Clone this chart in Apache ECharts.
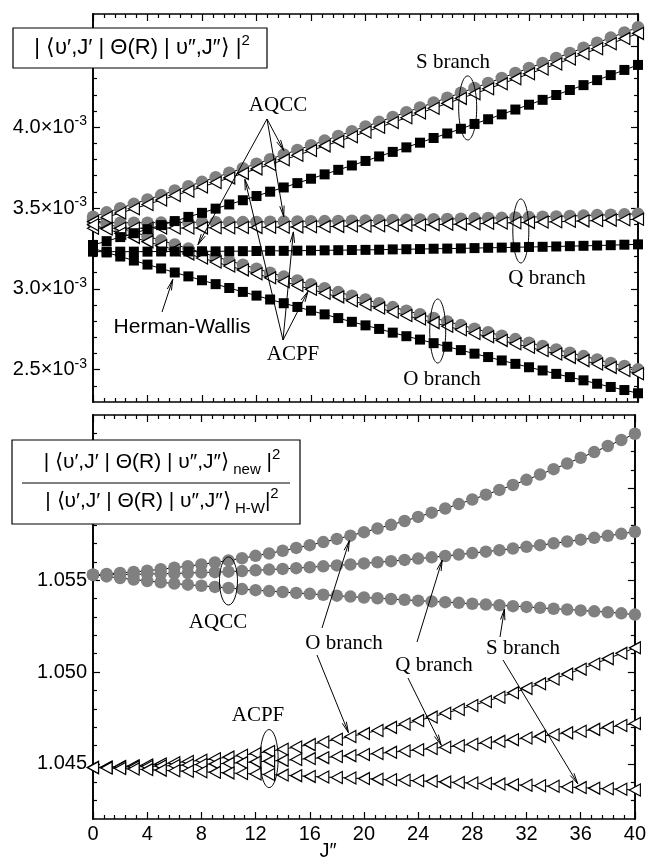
<!DOCTYPE html>
<html><head><meta charset="utf-8">
<script src="https://cdn.jsdelivr.net/npm/echarts@6/dist/echarts.min.js"></script>
<style>html,body{margin:0;padding:0;background:#fff}#c{width:649px;height:859px}</style>
</head><body><div id="c"></div>
<script>
// ---------- DATA ----------
const J = [0,1,2,3,4,5,6,7,8,9,10,11,12,13,14,15,16,17,18,19,20,21,22,23,24,25,26,27,28,29,30,31,32,33,34,35,36,37,38,39,40];

// Top panel: |<v',J'|Theta(R)|v'',J''>|^2 in units of 1e-3
const topAqccS = [3.446,3.473,3.499,3.526,3.553,3.580,3.608,3.635,3.662,3.690,3.718,3.746,3.774,3.802,3.831,3.859,3.888,3.917,3.946,3.975,4.004,4.033,4.063,4.093,4.122,4.152,4.182,4.213,4.243,4.273,4.304,4.335,4.366,4.397,4.428,4.459,4.491,4.522,4.554,4.586,4.618];
const topAqccQ = [3.409,3.409,3.409,3.409,3.409,3.410,3.410,3.411,3.411,3.412,3.412,3.413,3.414,3.415,3.416,3.417,3.418,3.419,3.420,3.421,3.422,3.424,3.426,3.427,3.429,3.431,3.432,3.434,3.436,3.438,3.439,3.442,3.444,3.446,3.448,3.451,3.453,3.456,3.458,3.461,3.464];
const topAqccO = [3.430,3.403,3.377,3.351,3.325,3.300,3.274,3.249,3.224,3.199,3.174,3.149,3.125,3.100,3.076,3.052,3.028,3.004,2.980,2.957,2.934,2.911,2.887,2.865,2.843,2.820,2.798,2.776,2.753,2.732,2.710,2.689,2.667,2.647,2.625,2.605,2.584,2.563,2.542,2.523,2.502];
const topAcpfS = [3.416,3.443,3.469,3.495,3.522,3.549,3.577,3.604,3.630,3.658,3.686,3.714,3.742,3.769,3.798,3.826,3.855,3.884,3.912,3.941,3.970,3.999,4.029,4.058,4.087,4.117,4.147,4.178,4.207,4.237,4.268,4.299,4.330,4.360,4.391,4.422,4.454,4.485,4.516,4.548,4.580];
const topAcpfQ = [3.375,3.375,3.375,3.375,3.375,3.376,3.376,3.376,3.377,3.378,3.378,3.379,3.380,3.381,3.381,3.383,3.384,3.385,3.386,3.388,3.389,3.390,3.392,3.394,3.395,3.397,3.399,3.400,3.402,3.405,3.407,3.409,3.411,3.413,3.415,3.418,3.420,3.422,3.425,3.427,3.430];
const topAcpfO = [3.396,3.370,3.344,3.318,3.292,3.267,3.241,3.216,3.191,3.166,3.141,3.117,3.093,3.068,3.044,3.021,2.997,2.973,2.950,2.926,2.903,2.881,2.857,2.835,2.813,2.791,2.768,2.747,2.724,2.703,2.681,2.660,2.639,2.618,2.597,2.576,2.556,2.535,2.514,2.495,2.475];
const topHwS = [3.271,3.295,3.320,3.344,3.369,3.394,3.419,3.445,3.470,3.496,3.522,3.548,3.574,3.601,3.627,3.654,3.681,3.708,3.736,3.763,3.791,3.819,3.847,3.875,3.904,3.933,3.961,3.990,4.020,4.049,4.079,4.109,4.139,4.169,4.199,4.230,4.260,4.291,4.322,4.354,4.385];
const topHwQ = [3.230,3.230,3.230,3.230,3.230,3.231,3.231,3.231,3.232,3.232,3.233,3.233,3.234,3.235,3.235,3.236,3.237,3.238,3.239,3.240,3.241,3.242,3.244,3.245,3.246,3.248,3.249,3.250,3.252,3.254,3.255,3.257,3.259,3.260,3.262,3.264,3.266,3.268,3.270,3.273,3.275];
const topHwO = [3.250,3.225,3.200,3.175,3.150,3.126,3.101,3.077,3.053,3.029,3.005,2.981,2.958,2.934,2.911,2.888,2.865,2.842,2.819,2.796,2.774,2.752,2.729,2.707,2.686,2.664,2.642,2.621,2.599,2.578,2.557,2.536,2.515,2.495,2.474,2.454,2.434,2.413,2.393,2.374,2.354];

// Bottom panel: ratio new / Herman-Wallis
const botAqccO = [1.05530,1.05534,1.05540,1.05545,1.05552,1.05560,1.05568,1.05577,1.05586,1.05597,1.05608,1.05620,1.05633,1.05646,1.05661,1.05676,1.05691,1.05708,1.05725,1.05743,1.05762,1.05782,1.05802,1.05823,1.05845,1.05868,1.05891,1.05915,1.05940,1.05966,1.05992,1.06019,1.06047,1.06076,1.06105,1.06136,1.06167,1.06198,1.06231,1.06264,1.06298];
const botAqccQ = [1.05530,1.05530,1.05531,1.05532,1.05534,1.05535,1.05537,1.05539,1.05542,1.05544,1.05547,1.05550,1.05554,1.05558,1.05562,1.05566,1.05571,1.05576,1.05581,1.05586,1.05592,1.05598,1.05604,1.05611,1.05618,1.05625,1.05632,1.05640,1.05648,1.05656,1.05664,1.05673,1.05682,1.05691,1.05701,1.05711,1.05721,1.05731,1.05742,1.05753,1.05764];
const botAqccS = [1.05530,1.05521,1.05512,1.05504,1.05496,1.05489,1.05482,1.05476,1.05470,1.05464,1.05458,1.05452,1.05446,1.05441,1.05436,1.05431,1.05426,1.05421,1.05416,1.05411,1.05406,1.05402,1.05398,1.05394,1.05389,1.05385,1.05381,1.05377,1.05372,1.05368,1.05364,1.05359,1.05355,1.05350,1.05345,1.05341,1.05336,1.05331,1.05326,1.05320,1.05313];
const botAcpfO = [1.04480,1.04483,1.04486,1.04490,1.04494,1.04500,1.04506,1.04513,1.04520,1.04528,1.04537,1.04547,1.04557,1.04568,1.04580,1.04592,1.04605,1.04619,1.04634,1.04649,1.04665,1.04682,1.04699,1.04717,1.04736,1.04755,1.04776,1.04796,1.04818,1.04840,1.04863,1.04887,1.04911,1.04936,1.04962,1.04989,1.05016,1.05044,1.05073,1.05102,1.05132];
const botAcpfQ = [1.04480,1.04481,1.04483,1.04484,1.04486,1.04489,1.04491,1.04494,1.04497,1.04500,1.04503,1.04507,1.04511,1.04515,1.04519,1.04524,1.04529,1.04534,1.04540,1.04545,1.04551,1.04557,1.04563,1.04570,1.04577,1.04584,1.04591,1.04599,1.04607,1.04615,1.04623,1.04632,1.04641,1.04650,1.04659,1.04669,1.04678,1.04688,1.04699,1.04709,1.04720];
const botAcpfS = [1.04480,1.04478,1.04475,1.04472,1.04469,1.04466,1.04463,1.04460,1.04457,1.04454,1.04451,1.04448,1.04445,1.04442,1.04439,1.04436,1.04432,1.04429,1.04426,1.04423,1.04420,1.04417,1.04414,1.04411,1.04408,1.04405,1.04402,1.04399,1.04396,1.04393,1.04390,1.04387,1.04384,1.04381,1.04378,1.04374,1.04371,1.04368,1.04365,1.04362,1.04358];

// Tick values / labels
const topYMajor = [2.5,3.0,3.5,4.0,4.5];
const topYLabels = [2.5,3.0,3.5,4.0];
const topYMinor = [2.4,2.6,2.7,2.8,2.9,3.1,3.2,3.3,3.4,3.6,3.7,3.8,3.9,4.1,4.2,4.3,4.4,4.6];
const botYMajor = [1.045,1.050,1.055,1.060];
const botYLabels = [1.045,1.050,1.055];
const botYMinor = [1.043,1.044,1.046,1.047,1.048,1.049,1.051,1.052,1.053,1.054,1.056,1.057,1.058,1.059,1.061,1.062,1.063];

// ---------- CHART ----------
const SANS = '"Liberation Sans", Arial, Helvetica, sans-serif';
const SERIF = '"Liberation Serif", "Times New Roman", serif';
const chart = echarts.init(document.getElementById('c'), null, {renderer:'canvas'});
const frame = {show:true, onZero:false, lineStyle:{color:'#000', width:1.6}};
const tickStyle = {color:'#000', width:1.2};

function xAx(grid, pos, showLabel){
  return {type:'value', gridIndex:grid, position:pos, min:0, max:40, interval:4,
    axisLine:frame,
    axisTick:{show:true, inside:true, length:7, lineStyle:tickStyle},
    minorTick:{show:true, splitNumber:5, length:4, lineStyle:tickStyle},
    splitLine:{show:false}, minorSplitLine:{show:false},
    axisLabel:{show:showLabel, fontFamily:SANS, fontSize:20, color:'#000', margin:5}};
}
function yAx(grid, pos, min, max, ticks, len, labels, fmt){
  return {type:'value', gridIndex:grid, position:pos, min:min, max:max,
    axisLine:frame,
    axisTick:{show:true, inside:true, length:len, customValues:ticks, lineStyle:tickStyle},
    splitLine:{show:false},
    axisLabel: labels ? {show:true, customValues:labels, formatter:fmt, margin:6,
       fontFamily:SANS, fontSize:20, color:'#000',
       rich:{a:{fontFamily:SANS, fontSize:20, color:'#000', lineHeight:26},
             b:{fontFamily:SANS, fontSize:14, color:'#000', lineHeight:13, verticalAlign:'top'}}}
      : {show:false}};
}
const topFmt = v => '{a|' + v.toFixed(1) + '×10}{b|-3}';
const botFmt = v => v.toFixed(3);

const xAxes = [xAx(0,'bottom',false), xAx(0,'top',false), xAx(1,'bottom',true), xAx(1,'top',false)];
const yAxes = [
  yAx(0,'left',2.3,4.7,topYMajor,7,topYLabels,topFmt),
  yAx(0,'left',2.3,4.7,topYMinor,4,null,null),
  yAx(0,'right',2.3,4.7,topYMajor,7,null,null),
  yAx(0,'right',2.3,4.7,topYMinor,4,null,null),
  yAx(1,'left',1.042,1.064,botYMajor,7,botYLabels,botFmt),
  yAx(1,'left',1.042,1.064,botYMinor,4,null,null),
  yAx(1,'right',1.042,1.064,botYMajor,7,null,null),
  yAx(1,'right',1.042,1.064,botYMinor,4,null,null)
];

const pts = arr => J.map((j,i)=>[j, arr[i]]);
const lineS = {color:'#000', width:1};
function circ(arr, xi, yi){ return {type:'line', clip:false, xAxisIndex:xi, yAxisIndex:yi, data:pts(arr), symbol:'circle', symbolSize:12.5,
  itemStyle:{color:'#808080'}, lineStyle:lineS, z:2}; }
function tri(arr, xi, yi){ return {type:'line', clip:false, xAxisIndex:xi, yAxisIndex:yi, data:pts(arr), symbol:'triangle', symbolSize:[12,11], symbolRotate:90,
  itemStyle:{color:'#fff', borderColor:'#000', borderWidth:1.2}, lineStyle:lineS, z:3}; }
function sq(arr, xi, yi){ return {type:'line', clip:false, xAxisIndex:xi, yAxisIndex:yi, data:pts(arr), symbol:'rect', symbolSize:10,
  itemStyle:{color:'#000'}, lineStyle:lineS, z:4}; }

const series = [
  circ(topAqccS,0,0), circ(topAqccQ,0,0), circ(topAqccO,0,0),
  tri(topAcpfS,0,0), tri(topAcpfQ,0,0), tri(topAcpfO,0,0),
  sq(topHwS,0,0), sq(topHwQ,0,0), sq(topHwO,0,0),
  circ(botAqccO,2,4), circ(botAqccQ,2,4), circ(botAqccS,2,4),
  tri(botAcpfO,2,4), tri(botAcpfQ,2,4), tri(botAcpfS,2,4)
];

chart.setOption({
  animation:false,
  backgroundColor:'#fff',
  grid:[{left:93, right:11, top:14, height:388, containLabel:false},
        {left:93, right:11, top:415, height:404, containLabel:false}],
  xAxis:xAxes, yAxis:yAxes, series:series
});

// ---------- ANNOTATIONS ----------
function P(si, j, v, off){
  const val = (v === undefined || v === null) ? series[si].data[j][1] : v;
  const p = chart.convertToPixel({seriesIndex:si}, [j, val]);
  return off ? [p[0]+off[0], p[1]+off[1]] : p;
}
function arrow(tail, head){
  const dx=head[0]-tail[0], dy=head[1]-tail[1], L=Math.hypot(dx,dy), bx=-dx/L, by=-dy/L;
  const a=0.2, len=11, c=Math.cos(a), s=Math.sin(a);
  const p1=[head[0]+len*(bx*c-by*s), head[1]+len*(bx*s+by*c)];
  const p2=[head[0]+len*(bx*c+by*s), head[1]+len*(-bx*s+by*c)];
  return [
    {type:'line', z:20, shape:{x1:tail[0],y1:tail[1],x2:head[0],y2:head[1]}, style:{stroke:'#000', lineWidth:1}},
    {type:'polyline', z:20, shape:{points:[p1,head,p2]}, style:{stroke:'#000', lineWidth:1, fill:null}}
  ];
}
function ell(c, rx, ry){ return {type:'ellipse', z:20, shape:{cx:c[0], cy:c[1], rx:rx, ry:ry}, style:{stroke:'#000', lineWidth:1, fill:null}}; }
function txt(t, x, y, font, size){ return {type:'text', z:20, x:x, y:y, style:{text:t, fontFamily:font, fontSize:size, fill:'#000', align:'center', verticalAlign:'middle'}}; }

const g = [];
// top panel
g.push(txt('S branch',453,62,SERIF,21), txt('Q branch',547,278,SERIF,21), txt('O branch',442,379,SERIF,21));
g.push(txt('AQCC',278,105,SERIF,21), txt('ACPF',293,354,SERIF,21), txt('Herman-Wallis',182,327,SANS,21));
g.push(ell(chart.convertToPixel({seriesIndex:0},[27.5,4.119]),9,32));
g.push(ell(chart.convertToPixel({seriesIndex:1},[31.4,3.358]),8,32));
g.push(ell(chart.convertToPixel({seriesIndex:2},[25.3,2.739]),8,32));
g.push(...arrow([267,119], P(0,14,null,[0,-4])));
g.push(...arrow([267,119], P(1,14,null,[0,-5])));
g.push(...arrow([267,119], P(2,8,null,[-4,-8])));
g.push(...arrow([283,340], P(3,11,null,[2,6])));
g.push(...arrow([283,340], P(4,15,null,[-4,5])));
g.push(...arrow([283,340], P(5,16,null,[-3,2])));
g.push(...arrow([162,312], P(8,6,null,[-2,7])));
// bottom panel
g.push(txt('AQCC',218,622,SERIF,21), txt('ACPF',258,715,SERIF,21));
g.push(txt('O branch',344,643,SERIF,21), txt('Q branch',434,665,SERIF,21), txt('S branch',523,648,SERIF,21));
g.push(ell(chart.convertToPixel({seriesIndex:9},[10,1.05496]),9,24));
g.push(ell(chart.convertToPixel({seriesIndex:12},[13,1.04529]),9,29));
g.push(...arrow([322,628], P(9,19,null,[-1,5])));
g.push(...arrow([317,655], P(12,19,null,[-2,-4])));
g.push(...arrow([417,642], P(10,26,null,[-3,4])));
g.push(...arrow([408,678], P(13,26,null,[-4,-2])));
g.push(...arrow([500,637], P(11,30,null,[5,4])));
g.push(...arrow([503,660], P(14,36,null,[-3,-4])));
// x axis name
g.push(txt('J″',328,851,SANS,20));

// boxed formula labels
const richM = {fontFamily:SANS, fontSize:22, fill:'#000', lineHeight:30};
const richP = {fontFamily:SANS, fontSize:15, fill:'#000', lineHeight:14, verticalAlign:'top'};
const richB = {fontFamily:SANS, fontSize:15, fill:'#000', lineHeight:14, verticalAlign:'bottom'};
g.push({type:'rect', z:30, shape:{x:13, y:28, width:254, height:40}, style:{fill:'#fff', stroke:'#000', lineWidth:1.2}});
g.push({type:'text', z:31, x:142, y:48, style:{text:'{m|| ⟨υ′,J′ | Θ(R) | υ″,J″⟩ |}{p|2}', align:'center', verticalAlign:'middle', rich:{m:richM, p:richP}}});

const richM2 = {fontFamily:SANS, fontSize:21, fill:'#000', lineHeight:30};
g.push({type:'rect', z:30, shape:{x:12, y:440, width:288, height:84}, style:{fill:'#fff', stroke:'#000', lineWidth:1.2}});
g.push({type:'text', z:31, x:162, y:462, style:{text:'{m|| ⟨υ′,J′ | Θ(R) | υ″,J″⟩}{s| new}{m| |}{p|2}', align:'center', verticalAlign:'middle', rich:{m:richM2, p:richP, s:richB}}});
g.push({type:'line', z:31, shape:{x1:22, y1:483, x2:290, y2:483}, style:{stroke:'#000', lineWidth:1}});
g.push({type:'text', z:31, x:162, y:501, style:{text:'{m|| ⟨υ′,J′ | Θ(R) | υ″,J″⟩}{s| H-W}{m||}{p|2}', align:'center', verticalAlign:'middle', rich:{m:richM2, p:richP, s:richB}}});

chart.setOption({graphic:{elements:g}});
</script>
</body></html>
